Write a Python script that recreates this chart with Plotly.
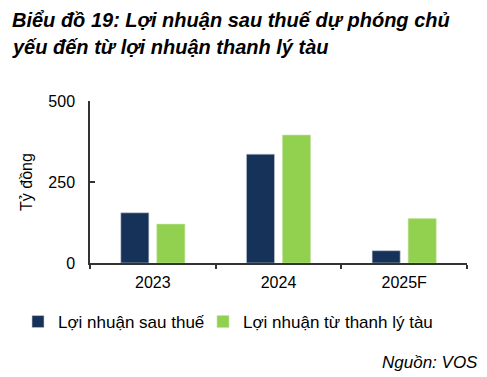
import plotly.graph_objects as go

categories = ["2023", "2024", "2025F"]
lnst = [155, 336, 38]
thanh_ly = [120, 395, 137]
series_names = ["Lợi nhuận sau thuế", "Lợi nhuận từ thanh lý tàu"]
y_ticks = [0, 250, 500]

navy = "#173259"
green = "#92d050"
font = "Liberation Sans, Arial, sans-serif"

fig = go.Figure()
fig.add_trace(go.Bar(x=categories, y=lnst, name=series_names[0], legend="legend",
                     marker=dict(color=navy, line=dict(color="#c8ced6", width=0.6))))
fig.add_trace(go.Bar(x=categories, y=thanh_ly, name=series_names[1], legend="legend2",
                     marker=dict(color=green, line=dict(color="#c6e6a6", width=0.6))))

# page is offset by 8px body margin; coordinates below are figure coords
W, H = 487, 377
L, T = 82, 93
R = W - 459
B = H - 255
PW, PH = W - L - R, H - T - B
leg_common = dict(orientation="h", xref="container", yref="container",
                  y=1 - 314 / H, xanchor="left", yanchor="middle",
                  font=dict(size=17), itemwidth=30, bgcolor="rgba(0,0,0,0)")
fig.update_layout(
    width=W, height=H,
    margin=dict(l=L, r=R, t=T, b=B),
    paper_bgcolor="white", plot_bgcolor="white",
    barmode="group", bargap=0.427, bargroupgap=0.22,
    font=dict(family=font, size=16, color="#000000"),
    showlegend=True,
    legend=dict(x=10 / W, **leg_common),
    legend2=dict(x=195 / W, **leg_common),
    xaxis=dict(showline=True, linecolor="#333333", linewidth=1.5,
               ticks="outside", ticklen=4, tickcolor="#333333", tickwidth=1.5,
               tickson="boundaries", showgrid=False, zeroline=False,
               tickfont=dict(size=16), ticklabelstandoff=4),
    yaxis=dict(range=[0, 500], tickvals=y_ticks, showline=True,
               linecolor="#333333", linewidth=1.5, ticks="inside", ticklen=5,
               tickcolor="#333333", tickwidth=1.5, showgrid=False, zeroline=False,
               tickfont=dict(size=16), ticklabelstandoff=10,
               title=dict(text="Tỷ đồng", font=dict(size=16), standoff=12)),
)

fig.add_annotation(text="<b><i>Biểu đồ 19: Lợi nhuận sau thuế dự phóng chủ</i></b>",
                   xref="paper", yref="paper", x=(2 - L) / PW,
                   y=1 + (T - 12) / PH, xanchor="left", yanchor="middle",
                   showarrow=False, font=dict(size=20, family=font))
fig.add_annotation(text="<b><i>yếu đến từ lợi nhuận thanh lý tàu</i></b>",
                   xref="paper", yref="paper", x=(2 - L) / PW,
                   y=1 + (T - 39) / PH, xanchor="left", yanchor="middle",
                   showarrow=False, font=dict(size=20, family=font))
fig.add_annotation(text="<i>Nguồn: VOS</i>",
                   xref="paper", yref="paper", x=(472 - L) / PW,
                   y=-(354 - (H - B)) / PH, xanchor="right", yanchor="middle",
                   showarrow=False, font=dict(size=17, family=font))

fig.write_html("out.html")
